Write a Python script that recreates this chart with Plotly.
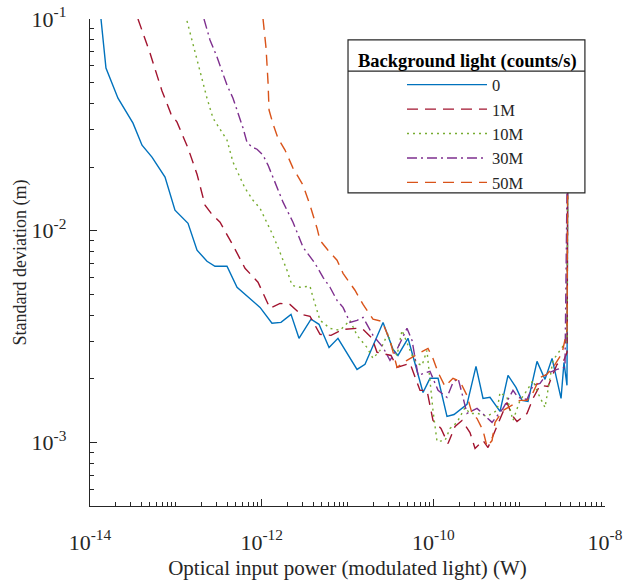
import numpy as np
import plotly.graph_objects as go

# Values as log10 exponents (x: power in W, y: std dev in m)
series_names = ["0", "1M", "10M", "30M", "50M"]

bg0_logx = [-13.872, -13.814, -13.674, -13.499, -13.394, -13.278, -13.126, -13.010, -12.858, -12.753,
            -12.637, -12.544, -12.404, -12.287, -12.019, -11.880, -11.775, -11.658, -11.565, -11.425,
            -11.332, -11.215, -11.111, -10.889, -10.796, -10.586, -10.470, -10.412, -10.295, -10.120,
            -10.039, -9.945, -9.841, -9.759, -9.608, -9.503, -9.421, -9.340, -9.223, -9.130,
            -9.037, -8.967, -8.897, -8.792, -8.699, -8.617, -8.512, -8.478, -8.443, -8.431]
bg0_logy = [-1.000, -1.232, -1.374, -1.492, -1.596, -1.652, -1.747, -1.903, -1.965, -2.092,
            -2.144, -2.168, -2.168, -2.267, -2.362, -2.437, -2.433, -2.395, -2.508, -2.418,
            -2.442, -2.551, -2.508, -2.655, -2.631, -2.433, -2.560, -2.589, -2.508, -2.764,
            -2.697, -2.697, -2.877, -2.868, -2.820, -2.641, -2.792, -2.787, -2.853, -2.683,
            -2.740, -2.801, -2.806, -2.617, -2.702, -2.603, -2.792, -2.622, -2.730, -1.383]

bg1_logx = [-13.441, -13.301, -13.161, -13.056, -12.986, -12.858, -12.753, -12.660, -12.590, -12.485,
            -12.334, -12.194, -12.043, -11.903, -11.786, -11.670, -11.542, -11.437, -11.320, -11.192,
            -11.052, -10.889, -10.819, -10.714, -10.656, -10.493, -10.423, -10.272, -10.155, -10.074,
            -10.004, -9.911, -9.829, -9.747, -9.666, -9.573, -9.514, -9.421, -9.363, -9.258,
            -9.142, -9.083, -9.025, -8.909, -8.839, -8.757, -8.664, -8.559, -8.489, -8.442, -8.431]
bg1_logy = [-1.000, -1.161, -1.340, -1.449, -1.487, -1.610, -1.733, -1.879, -1.917, -1.960,
            -2.069, -2.177, -2.243, -2.366, -2.343, -2.348, -2.395, -2.404, -2.489, -2.494,
            -2.466, -2.461, -2.466, -2.508, -2.574, -2.589, -2.645, -2.626, -2.754, -2.754,
            -2.896, -2.934, -3.005, -2.924, -2.896, -2.953, -3.028, -2.991, -3.024, -2.920,
            -2.811, -2.872, -2.901, -2.863, -2.792, -2.730, -2.735, -2.631, -2.622, -2.574, -1.383]

bg10_logx = [-12.870, -12.800, -12.718, -12.637, -12.567, -12.462, -12.404, -12.334, -12.194, -12.101,
             -12.019, -11.880, -11.810, -11.705, -11.646, -11.553, -11.437, -11.402, -11.355, -11.320,
             -11.204, -11.087, -10.971, -10.889, -10.773, -10.703, -10.621, -10.528, -10.481, -10.423,
             -10.365, -10.248, -10.190, -10.132, -10.074, -10.039, -10.004, -9.957, -9.864, -9.806,
             -9.724, -9.631, -9.573, -9.480, -9.375, -9.258, -9.223, -9.142, -9.072, -8.990,
             -8.909, -8.839, -8.780, -8.699, -8.641, -8.606, -8.524, -8.442, -8.431]
bg10_logy = [-1.009, -1.123, -1.251, -1.374, -1.468, -1.534, -1.572, -1.676, -1.799, -1.856,
             -1.894, -2.012, -2.078, -2.187, -2.258, -2.267, -2.262, -2.314, -2.376, -2.423,
             -2.461, -2.470, -2.423, -2.494, -2.551, -2.603, -2.565, -2.485, -2.556, -2.589,
             -2.470, -2.589, -2.626, -2.636, -2.565, -2.716, -2.849, -2.995, -2.991, -2.934,
             -2.905, -2.835, -2.863, -2.863, -2.877, -2.849, -2.764, -2.787, -2.896, -2.801,
             -2.754, -2.707, -2.768, -2.835, -2.707, -2.612, -2.565, -2.518, -1.383]

bg30_logx = [-12.672, -12.602, -12.520, -12.462, -12.404, -12.334, -12.276, -12.217, -12.171, -12.113,
             -12.054, -11.984, -11.926, -11.845, -11.751, -11.635, -11.577, -11.518, -11.379, -11.285,
             -11.204, -11.122, -11.052, -10.971, -10.889, -10.819, -10.703, -10.586, -10.505, -10.423,
             -10.307, -10.248, -10.178, -10.039, -9.945, -9.841, -9.771, -9.712, -9.666, -9.608,
             -9.491, -9.375, -9.316, -9.188, -9.072, -9.013, -8.909, -8.839, -8.757, -8.676,
             -8.559, -8.466, -8.431]
bg30_logy = [-1.000, -1.099, -1.180, -1.251, -1.312, -1.374, -1.440, -1.515, -1.582, -1.605,
             -1.615, -1.643, -1.690, -1.771, -1.865, -1.960, -2.021, -2.078, -2.154, -2.220,
             -2.267, -2.329, -2.362, -2.433, -2.423, -2.409, -2.494, -2.551, -2.612, -2.560,
             -2.461, -2.518, -2.683, -2.664, -2.754, -2.787, -2.716, -2.697, -2.768, -2.863,
             -2.839, -2.882, -2.905, -2.839, -2.754, -2.787, -2.797, -2.730, -2.721, -2.674,
             -2.655, -2.645, -1.383]

bg50_logx = [-11.984, -11.949, -11.926, -11.914, -11.868, -11.810, -11.728, -11.635, -11.518, -11.437,
             -11.355, -11.320, -11.227, -11.122, -11.052, -10.913, -10.819, -10.703, -10.598, -10.505,
             -10.423, -10.307, -10.190, -10.062, -10.004, -9.945, -9.864, -9.771, -9.689, -9.608,
             -9.549, -9.491, -9.421, -9.375, -9.316, -9.281, -9.188, -9.083, -8.990, -8.909,
             -8.839, -8.757, -8.676, -8.582, -8.501, -8.442, -8.431]
bg50_logy = [-1.000, -1.137, -1.298, -1.430, -1.496, -1.563, -1.619, -1.704, -1.785, -1.879,
             -1.988, -2.045, -2.092, -2.139, -2.201, -2.281, -2.348, -2.418, -2.428, -2.518,
             -2.645, -2.612, -2.584, -2.556, -2.603, -2.669, -2.735, -2.697, -2.712, -2.778,
             -2.863, -2.887, -2.943, -3.019, -2.991, -2.905, -2.849, -2.825, -2.801, -2.801,
             -2.764, -2.693, -2.678, -2.631, -2.579, -2.470, -1.383]

x_tick_vals = [1e-14, 1e-12, 1e-10, 1e-8]
x_tick_text = ["10<sup>-14</sup>", "10<sup>-12</sup>", "10<sup>-10</sup>", "10<sup>-8</sup>"]
y_tick_vals = [1e-3, 1e-2, 1e-1]
y_tick_text = ["10<sup>-3</sup>", "10<sup>-2</sup>", "10<sup>-1</sup>"]

colors = ["#0072BD", "#A2142F", "#77AC30", "#7E2F8E", "#D95319"]
dashes = ["solid", "11px,7px", "2px,4px", "10px,4px,2px,4px", "11px,7px"]

all_x = [bg0_logx, bg1_logx, bg10_logx, bg30_logx, bg50_logx]
all_y = [bg0_logy, bg1_logy, bg10_logy, bg30_logy, bg50_logy]

FONT = "Liberation Serif"
INK = "#262626"
fig = go.Figure()
for name, lx, ly, c, d in zip(series_names, all_x, all_y, colors, dashes):
    fig.add_trace(go.Scatter(
        x=10 ** np.array(lx), y=10 ** np.array(ly), mode="lines", name=name,
        line=dict(color=c, width=1.4, dash=d),
    ))

axis_common = dict(
    type="log", showline=True, linecolor=INK, linewidth=1.3, mirror=False,
    ticks="inside", ticklen=7, tickcolor=INK, tickwidth=1,
    showgrid=False, zeroline=False, automargin=False, tickmode="array",
    ticklabeloverflow="allow",
    tickfont=dict(family=FONT, size=22, color=INK),
    minor=dict(ticks="inside", ticklen=4, tickcolor=INK, dtick="D1", showgrid=False),
)

fig.update_layout(
    width=627, height=582,
    margin=dict(l=90, r=22, t=19, b=76),
    paper_bgcolor="white", plot_bgcolor="white",
    font=dict(family=FONT, color=INK),
    xaxis=dict(axis_common, range=[-14, -8], tickvals=x_tick_vals, ticktext=x_tick_text,
               ticklabelstandoff=16,
               title=dict(text="Optical input power (modulated light) (W)",
                          font=dict(family=FONT, size=21, color=INK), standoff=6)),
    yaxis=dict(axis_common, range=[-3.30, -1], tickvals=y_tick_vals, ticktext=y_tick_text,
               ticklabelstandoff=18,
               title=dict(text="Standard deviation (m)",
                          font=dict(family=FONT, size=18, color=INK), standoff=0)),
    showlegend=True,
    legend=dict(
        title=dict(text="<b>Background light (counts/s)</b>", side="top",
                   font=dict(family=FONT, size=18.5, color="black")),
        x=0.5165, xanchor="left", y=0.950, yanchor="top",
        bgcolor="rgba(0,0,0,0)", borderwidth=0,
        font=dict(family=FONT, size=16.5, color=INK),
        itemwidth=80, indentation=46, tracegroupgap=0,
    ),
)

# legend frame (white box hiding lines underneath) and title separator
fig.add_shape(type="rect", xref="paper", yref="paper", x0=0.501, x1=0.961, y0=0.643, y1=0.957,
              fillcolor="white", line=dict(color=INK, width=1.2), layer="above")
fig.add_shape(type="line", xref="paper", yref="paper", x0=0.501, x1=0.961, y0=0.893, y1=0.893,
              line=dict(color=INK, width=1.2), layer="above")

fig.write_html("out.html", config={"displayModeBar": False},
               post_script="document.body.style.margin='0';")
